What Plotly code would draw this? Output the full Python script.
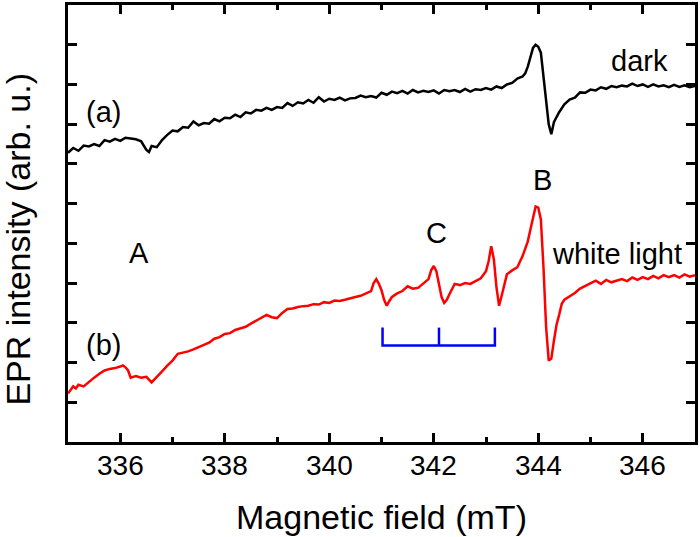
import plotly.graph_objects as go

# Spectrum (a): dark
field_a = [335.0, 335.1, 335.2, 335.3, 335.4, 335.5, 335.6, 335.7, 335.8, 335.9,
           336.0, 336.1, 336.2, 336.3, 336.4, 336.5, 336.55, 336.6, 336.7, 336.8, 336.9,
           337.0, 337.1, 337.2, 337.3, 337.4, 337.5, 337.6, 337.7, 337.8, 337.9,
           338.0, 338.1, 338.2, 338.3, 338.4, 338.5, 338.6, 338.7, 338.8, 338.9,
           339.0, 339.1, 339.2, 339.3, 339.4, 339.5, 339.6, 339.7, 339.8, 339.9,
           340.0, 340.1, 340.2, 340.3, 340.4, 340.5, 340.6, 340.7, 340.8, 340.9,
           341.0, 341.1, 341.2, 341.3, 341.4, 341.5, 341.6, 341.7, 341.8, 341.9,
           342.0, 342.1, 342.2, 342.3, 342.4, 342.5, 342.6, 342.7, 342.8, 342.9,
           343.0, 343.1, 343.2, 343.3, 343.4, 343.5, 343.6, 343.7, 343.75, 343.8, 343.85, 343.9,
           343.95, 344.0, 344.05, 344.1, 344.15, 344.2, 344.25, 344.3, 344.35, 344.4,
           344.5, 344.6, 344.7, 344.8, 344.9,
           345.0, 345.1, 345.2, 345.3, 345.4, 345.5, 345.6, 345.7, 345.8, 345.9,
           346.0, 346.1, 346.2, 346.3, 346.4, 346.5, 346.6, 346.7, 346.8, 346.9, 347.0]
epr_a = [7.28, 7.40, 7.33, 7.46, 7.44, 7.50, 7.45, 7.60, 7.56, 7.63,
         7.58, 7.66, 7.64, 7.62, 7.57, 7.35, 7.30, 7.45, 7.42, 7.60, 7.73,
         7.84, 7.82, 7.93, 7.91, 8.07, 7.97, 8.03, 8.01, 8.13, 8.07,
         8.16, 8.15, 8.24, 8.18, 8.30, 8.27, 8.36, 8.34, 8.41, 8.36,
         8.43, 8.41, 8.53, 8.46, 8.55, 8.52, 8.61, 8.54, 8.68, 8.57,
         8.64, 8.61, 8.67, 8.60, 8.65, 8.66, 8.72, 8.68, 8.71, 8.67,
         8.79, 8.74, 8.82, 8.78, 8.84, 8.77, 8.86, 8.80, 8.84, 8.81,
         8.85, 8.77, 8.86, 8.83, 8.86, 8.81, 8.89, 8.82, 8.88, 8.86,
         8.91, 8.87, 8.95, 8.91, 9.00, 9.04, 9.15, 9.20, 9.28, 9.45, 9.68, 9.92,
         10.00, 9.95, 9.80, 9.25, 8.60, 8.00, 7.75, 8.05, 8.18, 8.30,
         8.50, 8.62, 8.67, 8.80, 8.79,
         8.87, 8.85, 8.93, 8.89, 8.96, 8.93, 8.97, 8.95, 9.02, 8.96,
         9.00, 8.94, 9.00, 8.95, 8.98, 8.93, 8.99, 8.94, 8.98, 8.93, 8.96]

# Spectrum (b): white light
field_b = [335.0, 335.1, 335.15, 335.2, 335.3, 335.4, 335.5, 335.6, 335.7, 335.8, 335.9,
           336.0, 336.05, 336.1, 336.15, 336.2, 336.3, 336.4, 336.5, 336.6, 336.7, 336.8, 336.9,
           337.0, 337.1, 337.2, 337.3, 337.4, 337.5, 337.6, 337.7, 337.8, 337.9,
           338.0, 338.1, 338.2, 338.3, 338.4, 338.5, 338.6, 338.7, 338.8, 338.9,
           339.0, 339.1, 339.2, 339.3, 339.4, 339.5, 339.6, 339.7, 339.8, 339.9,
           340.0, 340.1, 340.2, 340.3, 340.4, 340.5, 340.6, 340.7, 340.8, 340.85, 340.9, 340.95,
           341.0, 341.05, 341.1, 341.15, 341.2, 341.3, 341.4, 341.5, 341.6, 341.7, 341.8, 341.9, 341.95,
           342.0, 342.05, 342.1, 342.15, 342.2, 342.25, 342.3, 342.4, 342.5, 342.6, 342.7, 342.8, 342.9,
           343.0, 343.05, 343.1, 343.15, 343.2, 343.25, 343.3, 343.35, 343.4, 343.5, 343.6, 343.7,
           343.8, 343.85, 343.9, 343.95, 344.0, 344.05, 344.1, 344.15, 344.2, 344.25, 344.3, 344.35,
           344.4, 344.45, 344.5, 344.6, 344.7, 344.8, 344.9,
           345.0, 345.1, 345.2, 345.3, 345.4, 345.5, 345.6, 345.7, 345.8, 345.9,
           346.0, 346.1, 346.2, 346.3, 346.4, 346.5, 346.6, 346.7, 346.8, 346.9, 347.0]
epr_b = [1.22, 1.40, 1.35, 1.44, 1.40, 1.52, 1.62, 1.72, 1.80, 1.84, 1.86,
         1.90, 1.93, 1.88, 1.80, 1.62, 1.66, 1.62, 1.64, 1.50, 1.65, 1.78, 1.92,
         2.05, 2.22, 2.25, 2.28, 2.33, 2.38, 2.45, 2.50, 2.60, 2.64,
         2.72, 2.74, 2.82, 2.86, 2.90, 2.98, 3.05, 3.12, 3.20, 3.14,
         3.12, 3.25, 3.35, 3.36, 3.40, 3.42, 3.43, 3.47, 3.46, 3.52,
         3.50, 3.56, 3.55, 3.58, 3.62, 3.65, 3.68, 3.74, 3.80, 4.00, 4.10, 3.98,
         3.82, 3.58, 3.43, 3.55, 3.65, 3.74, 3.80, 3.92, 3.86, 3.88, 3.98, 4.10, 4.32,
         4.43, 4.30, 4.00, 3.65, 3.50, 3.58, 3.72, 3.98, 3.95, 4.00, 3.98, 4.06, 4.12,
         4.30, 4.55, 4.93, 4.60, 3.90, 3.43, 3.68, 3.95, 4.22, 4.32, 4.40, 4.68,
         5.05, 5.35, 5.65, 5.93, 5.90, 5.60, 4.40, 2.90, 2.05, 2.10, 2.55, 2.95,
         3.20, 3.48, 3.58, 3.66, 3.75, 3.86, 3.92,
         4.00, 4.06, 3.98, 4.08, 4.02, 4.06, 4.10, 4.05, 4.14, 4.08,
         4.15, 4.10, 4.18, 4.12, 4.20, 4.15, 4.20, 4.14, 4.22, 4.16, 4.20]

# Hyperfine bracket (C)
bracket_fields = [341.02, 342.1, 343.17]
bracket_base = 2.43
bracket_top = 2.88

x_ticks = [336, 338, 340, 342, 344, 346]
x_tick_labels = ["336", "338", "340", "342", "344", "346"]

FONT = "Liberation Sans, Arial, sans-serif"

fig = go.Figure()
fig.add_trace(go.Scatter(x=field_a, y=epr_a, mode="lines",
                         line=dict(color="black", width=2.5), showlegend=False))
fig.add_trace(go.Scatter(x=field_b, y=epr_b, mode="lines",
                         line=dict(color="#ff0000", width=2.5), showlegend=False))

bx = [bracket_fields[0], bracket_fields[0], bracket_fields[2], bracket_fields[2], None,
      bracket_fields[1], bracket_fields[1]]
by = [bracket_top, bracket_base, bracket_base, bracket_top, None, bracket_base, bracket_top]
fig.add_trace(go.Scatter(x=bx, y=by, mode="lines",
                         line=dict(color="#0000ff", width=2.5), showlegend=False))

labels = [
    ("(a)", 335.67, 8.30),
    ("(b)", 335.67, 2.43),
    ("A", 336.35, 4.75),
    ("B", 344.09, 6.6),
    ("C", 342.05, 5.25),
    ("dark", 345.93, 9.6),
    ("white light", 345.50, 4.73),
]
for text, x, y in labels:
    fig.add_annotation(x=x, y=y, text=text, showarrow=False,
                       font=dict(family=FONT, size=29, color="black"),
                       xanchor="center", yanchor="middle")

# x tick labels placed at their axis values
for v, t in zip(x_ticks, x_tick_labels):
    fig.add_annotation(x=v, xref="x", y=-0.0534, yref="paper", text=t,
                       showarrow=False, font=dict(family=FONT, size=28, color="black"),
                       xanchor="center", yanchor="middle")

# axis titles
fig.add_annotation(xref="paper", yref="paper", x=0.5, y=-0.1705,
                   text="Magnetic field (mT)", showarrow=False,
                   font=dict(family=FONT, size=34, color="black"),
                   xanchor="center", yanchor="middle")
fig.add_annotation(xref="paper", yref="paper", x=-0.0795, y=0.4636,
                   text="EPR intensity (arb. u.)", showarrow=False, textangle=-90,
                   font=dict(family=FONT, size=34, color="black"),
                   xanchor="center", yanchor="middle")

fig.update_layout(
    width=700, height=537,
    margin=dict(l=68, r=3, t=2, b=95),
    paper_bgcolor="white", plot_bgcolor="white",
    font=dict(family=FONT, color="black"),
    xaxis=dict(range=[335, 347], tickvals=x_ticks, showticklabels=False,
               ticks="inside", ticklen=9, tickwidth=2.5, tickcolor="black",
               showline=True, linewidth=3, linecolor="black", mirror="ticks",
               showgrid=False, zeroline=False,
               minor=dict(ticks="inside", ticklen=5, tickwidth=2.5, dtick=1,
                          tickcolor="black", showgrid=False)),
    yaxis=dict(range=[0, 11], dtick=1, tick0=0, showticklabels=False,
               ticks="inside", ticklen=9, tickwidth=2.5, tickcolor="black",
               showline=True, linewidth=3, linecolor="black", mirror="ticks",
               showgrid=False, zeroline=False),
)

fig.write_html("out.html", config={"displayModeBar": False},
               post_script="document.body.style.margin='0';document.body.style.padding='0';")
